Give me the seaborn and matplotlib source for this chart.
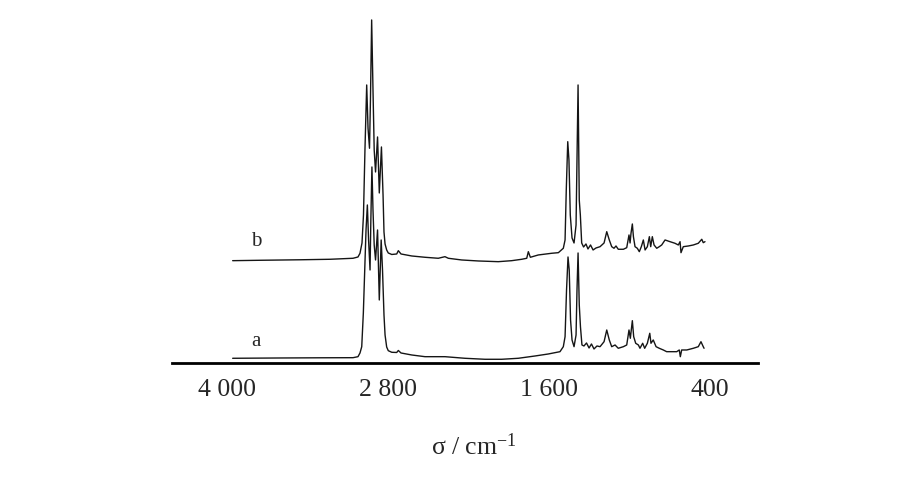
import seaborn as sns
import numpy as np
import pandas as pd
import matplotlib.pyplot as plt

# wavenumbers (cm-1) and intensities
wn_b = [3960, 3756, 3458, 3234, 3062, 3025, 3010, 2995, 2984, 2973, 2960, 2950, 2939, 2932,
        2923, 2913, 2904, 2894, 2879, 2866, 2850, 2838, 2831, 2823, 2811, 2799, 2773, 2736,
        2724, 2704, 2624, 2525, 2426, 2376, 2351, 2251, 2127, 1978, 1878, 1803, 1766, 1754,
        1739, 1680, 1580, 1530, 1493, 1480, 1471, 1460, 1451, 1441, 1428, 1413, 1398, 1383,
        1374, 1366, 1356, 1342, 1324, 1309, 1290, 1271, 1249, 1219, 1189, 1169, 1150, 1132,
        1115, 1100, 1083, 1045, 1020, 1003, 995, 988, 978, 970, 958, 941, 926, 911, 896, 883,
        866, 851, 841, 829, 816, 796, 777, 759, 734, 697, 660, 635, 622, 615, 598, 560, 523,
        486, 460, 449, 436]
int_b = [102.6, 103, 103.5, 104, 105, 106.3, 110, 120.3, 148.3, 213.3, 278.3, 235, 215, 263.3,
         343.3, 273.3, 213.3, 191.3, 226.3, 170.3, 216.3, 168.3, 131.3, 119.3, 113.3, 110.3, 108.8, 109.3,
         112.6, 109.3, 107.3, 106, 105, 106.6, 105, 103.3, 102.3, 101.6, 102.6, 104, 105, 111.6,
         106, 108.3, 110, 110.6, 115, 123.3, 173.3, 221.6, 203.3, 148.3, 125.3, 120.3, 138.3, 278.3,
         163.3, 148.3, 120.3, 116.3, 119.3, 114.3, 118.3, 113.3, 115.3, 116.6, 120.3, 131.6, 123.3, 116.6,
         115, 117.3, 114, 114, 115.6, 128.3, 120.3, 130, 139.3, 126.6, 116.6, 115, 111.6, 116.6, 123.3, 113.3,
         116.6, 126.6, 116.6, 126.6, 118.3, 115, 116.6, 118.3, 123.3, 121.6, 120, 118.3, 121.6, 110.6, 116.6,
         117.3, 118.3, 120, 124, 120.6, 121.6]

wn_a = [3960, 3607, 3308, 3062, 3025, 3010, 2997, 2985, 2973, 2965, 2955, 2946, 2935, 2929,
        2921, 2913, 2904, 2894, 2879, 2866, 2852, 2842, 2831, 2823, 2811, 2799, 2773, 2736,
        2724, 2704, 2624, 2525, 2376, 2227, 2077, 1953, 1829, 1704, 1605, 1518, 1493, 1480,
        1469, 1458, 1449, 1439, 1428, 1413, 1398, 1391, 1383, 1374, 1365, 1354, 1339, 1320,
        1301, 1283, 1264, 1242, 1219, 1189, 1169, 1150, 1132, 1107, 1083, 1045, 1020, 1003,
        993, 978, 968, 953, 933, 921, 901, 886, 866, 848, 839, 822, 801, 777, 747, 722, 684,
        647, 628, 620, 610, 572, 523, 486, 466, 449, 443]
int_a = [5, 5.3, 5.5, 5.6, 6.6, 10.3, 16.6, 50.3, 100.3, 133.3, 158.3, 123.3, 93.3, 143.3,
         196.3, 153.3, 118.3, 103.3, 133.3, 63.3, 123.3, 93.3, 48.3, 28.3, 16.3, 12.6, 11, 10.8,
         12.8, 10.3, 8.3, 6.6, 6.6, 5, 4, 4, 5, 7.3, 9.3, 11.6, 16.6, 26.6,
         73.3, 106.3, 93.3, 43.3, 23.3, 16.6, 28.3, 73.3, 110.3, 58.3, 36.3, 18.3, 17.3, 20.3,
         15.3, 19.3, 14.3, 17.3, 16.6, 21.6, 33.3, 23.3, 16.6, 18.3, 15, 16.6, 18.3, 33.3,
         25, 42.6, 26.6, 20, 18.3, 15, 20, 15, 20, 30, 20, 23.3, 16.6, 15, 13.3, 11.6, 11.6,
         11.6, 13.3, 6.6, 13.3, 13.3, 15, 16.6, 21.6, 16.6, 15]

tick_pos = [4000, 2800, 1600, 400]
tick_txt = ["4 000", "2 800", "1 600", "400"]

sns.set_style("white")
plt.rcParams['font.family'] = ['Liberation Serif', 'DejaVu Serif']
plt.rcParams['mathtext.fontset'] = 'custom'
plt.rcParams['mathtext.rm'] = 'Liberation Serif'
plt.rcParams['mathtext.it'] = 'Liberation Serif:italic'

fig = plt.figure(figsize=(9.23, 5.04), dpi=100)
ax = fig.add_axes([0.1860, 0.2792, 0.6356, 0.6812])

df_a = pd.DataFrame({"wn": wn_a, "I": int_a})
df_b = pd.DataFrame({"wn": wn_b, "I": int_b})
sns.lineplot(data=df_a, x="wn", y="I", ax=ax, color="#151515", lw=1.0, estimator=None)
sns.lineplot(data=df_b, x="wn", y="I", ax=ax, color="#151515", lw=1.0, estimator=None)
for l in ax.lines:
    l.set_clip_on(False)

ax.text(3784, 21.6, "a", fontsize=15, ha="center", va="center")
ax.text(3784, 121.6, "b", fontsize=15, ha="center", va="center")

ax.set_xlim(4415, 38)
ax.set_ylim(0, 343.3)
ax.set_xticks(tick_pos)
ax.set_xticklabels(tick_txt, fontsize=18.5)
ax.tick_params(axis="x", direction="in", length=7.2, width=1.1, pad=11, color="black")
ax.set_yticks([])
ax.set_xlabel("")
ax.set_ylabel("")
for s in ["left", "top", "right"]:
    ax.spines[s].set_visible(False)
ax.spines["bottom"].set_linewidth(2)
ax.spines["bottom"].set_color("black")

fig.text(474 / 923, (504 - 455) / 504, "σ / cm$^{-1}$", fontsize=18.5,
         ha="center", va="baseline")

plt.savefig("out.png", dpi=100)
